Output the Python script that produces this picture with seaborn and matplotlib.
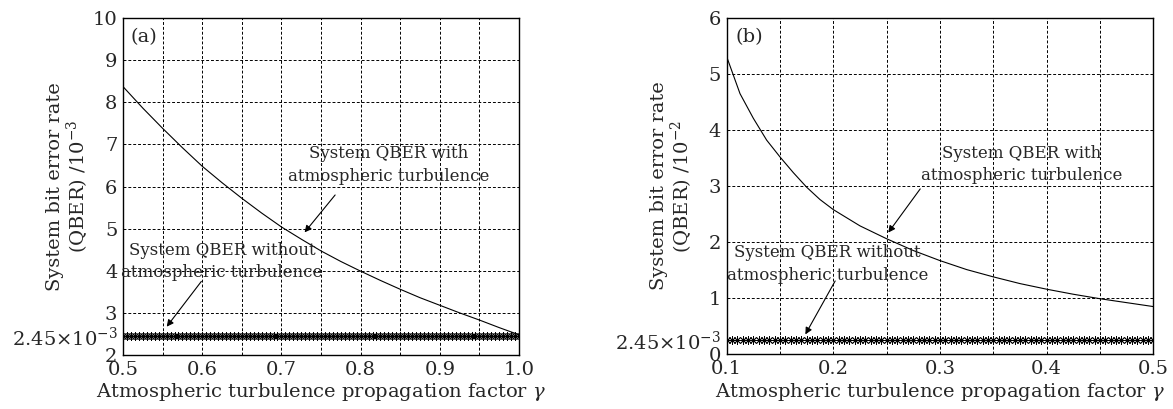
import numpy as np
import pandas as pd
import matplotlib
matplotlib.use("Agg")
import matplotlib.pyplot as plt
import seaborn as sns

# Panel (a): gamma 0.5 - 1.0, QBER in units of 1e-3
gamma_a = [0.5, 0.525, 0.55, 0.575, 0.6, 0.625, 0.65, 0.675, 0.7, 0.725, 0.75,
           0.775, 0.8, 0.825, 0.85, 0.875, 0.9, 0.925, 0.95, 0.975, 1.0]
qber_a = [8.37, 7.86, 7.38, 6.92, 6.48, 6.09, 5.72, 5.37, 5.04, 4.75, 4.47,
          4.22, 3.99, 3.77, 3.56, 3.36, 3.18, 3.00, 2.83, 2.65, 2.48]
base_a = 2.45  # 2.45e-3 in units of 1e-3

# Panel (b): gamma 0.1 - 0.5, QBER in units of 1e-2
gamma_b = [0.1, 0.1125, 0.125, 0.1375, 0.15, 0.1625, 0.175, 0.1875, 0.2, 0.225,
           0.25, 0.275, 0.3, 0.325, 0.35, 0.375, 0.4, 0.425, 0.45, 0.475, 0.5]
qber_b = [5.31, 4.65, 4.21, 3.82, 3.52, 3.24, 2.98, 2.76, 2.58, 2.29,
          2.06, 1.85, 1.67, 1.51, 1.38, 1.26, 1.16, 1.07, 0.99, 0.92, 0.85]
base_b = 0.245  # 2.45e-3 in units of 1e-2

xlabel = r"Atmospheric turbulence propagation factor $\gamma$"
base_label = r"2.45$\times$10$^{-3}$"
txt_with = "System QBER with\natmospheric turbulence"
txt_without = "System QBER without\natmospheric turbulence"

sns.set_style("ticks")
plt.rcParams["font.family"] = ["DejaVu Serif"]
plt.rcParams["mathtext.fontset"] = "dejavuserif"

fig = plt.figure(figsize=(11.73, 4.09), dpi=100)
ax_a = fig.add_axes([0.1049, 0.132, 0.3376, 0.824])
ax_b = fig.add_axes([0.6195, 0.134, 0.3637, 0.822])

grid_kw = dict(color="black", linestyle=(0, (3, 2)), linewidth=0.7)
FS = 14


def draw_panel(ax, g, q, base, xlim, ylim, xmajor, yticks, ylabels, ylabel, tag,
               ann_with, ann_without):
    df = pd.DataFrame({"g": g, "q": q})
    sns.lineplot(data=df, x="g", y="q", ax=ax, color="black", linewidth=0.8)
    gb = np.round(np.arange(xlim[0], xlim[1] + 1e-9, 0.005), 4)
    dfb = pd.DataFrame({"g": gb, "q": np.full(len(gb), base)})
    sns.lineplot(data=dfb, x="g", y="q", ax=ax, color="black", linewidth=0.7,
                 marker=(8, 2, 0), markersize=6, markeredgewidth=0.6,
                 markeredgecolor="black")
    ax.set_xlim(*xlim)
    ax.set_ylim(*ylim)
    ax.set_xticks(xmajor)
    ax.set_xticks(np.arange(xlim[0], xlim[1] + 1e-9, 0.05), minor=True)
    ax.set_yticks(yticks)
    ax.set_yticklabels(ylabels)
    ax.set_xticklabels([f"{v:.1f}" for v in xmajor])
    ax.grid(True, which="both", **grid_kw)
    ax.tick_params(which="both", direction="in", length=0, labelsize=FS, pad=4)
    for s in ax.spines.values():
        s.set_color("black")
        s.set_linewidth(1.0)
    ax.set_xlabel(xlabel, fontsize=FS, labelpad=2)
    ax.set_ylabel(ylabel, fontsize=FS, linespacing=1.05)
    # right edge of the rotated label sits ~32 px left of the axes
    ax.yaxis.set_label_coords(-32 / (ax.get_position().width * 1173), 0.5)
    ax.text(0.02, 0.97, tag, transform=ax.transAxes, fontsize=FS, va="top", ha="left")
    for txt, (head, tail, centre) in ((txt_with, ann_with), (txt_without, ann_without)):
        ax.annotate("", xy=head, xytext=tail,
                    arrowprops=dict(arrowstyle="-|>", color="black", lw=0.8,
                                    mutation_scale=10))
        ax.text(centre[0], centre[1], txt, fontsize=12, ha="center", va="center",
                linespacing=1.4)


# annotation tuples: (arrow head, arrow tail, text centre)
draw_panel(ax_a, gamma_a, qber_a, base_a, (0.5, 1.0), (2, 10),
           [0.5, 0.6, 0.7, 0.8, 0.9, 1.0],
           [2, base_a, 3, 4, 5, 6, 7, 8, 9, 10],
           ["2", base_label, "3", "4", "5", "6", "7", "8", "9", "10"],
           "System bit error rate\n(QBER) /10$^{-3}$", "(a)",
           ((0.727, 4.86), (0.770, 5.85), (0.835, 6.51)),
           ((0.553, 2.62), (0.601, 3.80), (0.625, 4.22)))

draw_panel(ax_b, gamma_b, qber_b, base_b, (0.1, 0.5), (0, 6),
           [0.1, 0.2, 0.3, 0.4, 0.5],
           [0, base_b, 1, 2, 3, 4, 5, 6],
           ["0", base_label, "1", "2", "3", "4", "5", "6"],
           "System bit error rate\n(QBER) /10$^{-2}$", "(b)",
           ((0.25, 2.13), (0.283, 2.99), (0.377, 3.39)),
           ((0.1725, 0.31), (0.203, 1.35), (0.1945, 1.61)))

fig.savefig("out.png", dpi=100)
